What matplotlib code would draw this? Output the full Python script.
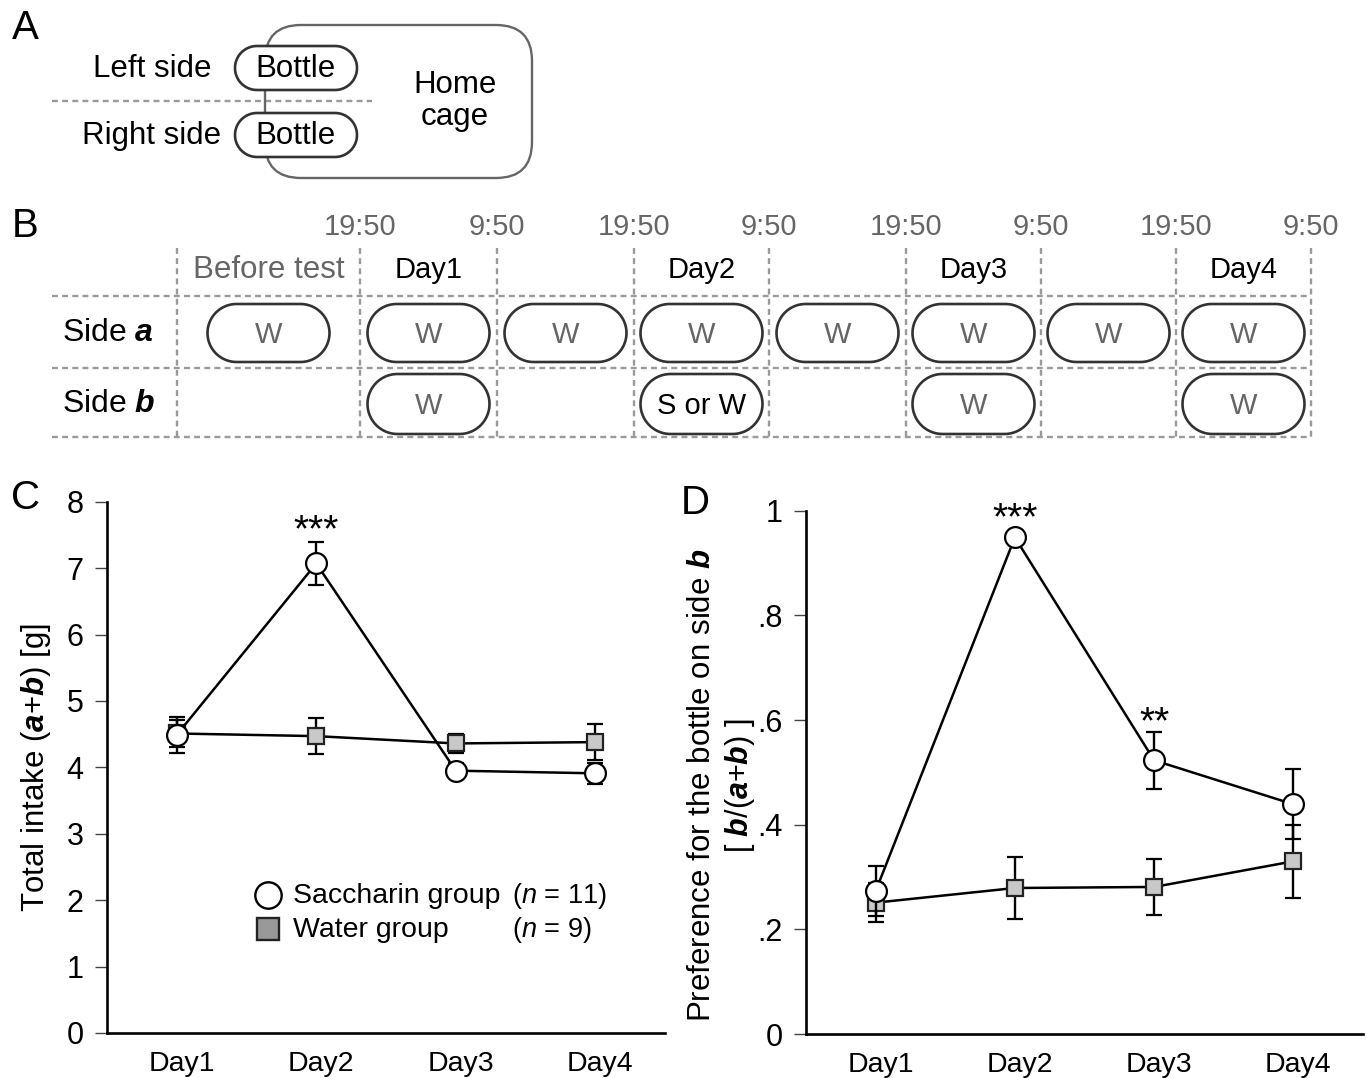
import numpy as np
import matplotlib
matplotlib.use('Agg')
import matplotlib.pyplot as plt
from matplotlib.patches import FancyBboxPatch, Polygon
from matplotlib.transforms import ScaledTranslation

plt.rcParams['font.family'] = ['Liberation Sans', 'DejaVu Sans']
plt.rcParams['mathtext.fontset'] = 'custom'
plt.rcParams['mathtext.rm'] = 'Liberation Sans'
plt.rcParams['mathtext.it'] = 'Liberation Sans:italic'
plt.rcParams['mathtext.bf'] = 'Liberation Sans:bold'
plt.rcParams['mathtext.bfit'] = 'Liberation Sans:italic:bold'

# ---- data ----
days = ['Day1', 'Day2', 'Day3', 'Day4']

# C: total intake (a+b) [g], mean and SEM
sac_intake = [4.49, 7.07, 3.95, 3.91]
sac_intake_err = [0.27, 0.32, 0.11, 0.16]
wat_intake = [4.51, 4.47, 4.36, 4.38]
wat_intake_err = [0.20, 0.27, 0.14, 0.27]

# D: preference for side b, b/(a+b)
sac_pref = [0.273, 0.949, 0.523, 0.439]
sac_pref_err = [0.048, 0.0, 0.054, 0.067]
wat_pref = [0.251, 0.279, 0.281, 0.330]
wat_pref_err = [0.037, 0.060, 0.053, 0.070]

# B: schedule
times = ['19:50', '9:50', '19:50', '9:50', '19:50', '9:50', '19:50', '9:50']
periods = ['Before test', 'Day1', '', 'Day2', '', 'Day3', '', 'Day4']
side_a = ['W', 'W', 'W', 'W', 'W', 'W', 'W', 'W']
side_b = ['', 'W', '', 'S or W', '', 'W', '', 'W']

W, H = 1366, 1078
fig = plt.figure(figsize=(W / 100, H / 100), dpi=100)

# overlay axes in pixel coordinates for the schematics (A, B)
ax0 = fig.add_axes([0, 0, 1, 1])
ax0.set_xlim(0, W)
ax0.set_ylim(H, 0)
ax0.axis('off')

GRAY_TXT = '#666666'
DASH = '#9a9a9a'


def pill(cx, cy, w, h, ec='#333333', lw=1.9):
    # stadium shape with true semicircular ends
    r = h / 2
    t = np.linspace(-np.pi / 2, np.pi / 2, 40)
    right = np.c_[cx + w / 2 - r + r * np.cos(t), cy + r * np.sin(t)]
    left = np.c_[cx - w / 2 + r - r * np.cos(t), cy - r * np.sin(t)]
    ax0.add_patch(Polygon(np.vstack([right, left]), closed=True,
                          fc='white', ec=ec, lw=lw, zorder=3))


def dline(x0, x1, y0, y1):
    ax0.plot([x0, x1], [y0, y1], color=DASH, lw=1.7, dashes=(2.5, 1.8),
             zorder=1)


# panel letters
for lab, (lx, ly) in zip('ABCD', [(25, 28), (25, 226), (26, 498), (695, 503)]):
    ax0.text(lx, ly, lab, fontsize=29, ha='center', va='center')

# ---- A ----
cage = FancyBboxPatch((265, 25), 267, 153, boxstyle='round,pad=0,rounding_size=36',
                      fc='none', ec='#666666', lw=1.7, zorder=2)
ax0.add_patch(cage)
dline(52, 372, 101, 101)
pill(296, 68, 122, 44)
pill(296, 135, 122, 44)
ax0.text(296, 69, 'Bottle', fontsize=22.5, ha='center', va='center', zorder=4)
ax0.text(296, 136, 'Bottle', fontsize=22.5, ha='center', va='center', zorder=4)
ax0.text(152, 69, 'Left side', fontsize=22.5, ha='center', va='center')
ax0.text(152, 136, 'Right side', fontsize=22.5, ha='center', va='center')
ax0.text(455, 101, 'Home\ncage', fontsize=22.5, ha='center', va='center',
         linespacing=1.05)

# ---- B ----
bounds = [177, 360, 497, 634, 769, 906, 1041, 1176, 1311]
for bx in bounds:
    dline(bx, bx, 248, 437)
for hy in [296, 368, 437]:
    dline(52, 1311, hy, hy)
for bx, t in zip(bounds[1:], times):
    ax0.text(bx, 227, t, fontsize=21, ha='center', va='center', color=GRAY_TXT)
for i, per in enumerate(periods):
    cx = (bounds[i] + bounds[i + 1]) / 2
    col = GRAY_TXT if i == 0 else 'black'
    fs = 22.5 if i == 0 else 21
    ax0.text(cx, 270, per, fontsize=fs, ha='center', va='center', color=col)
    if side_a[i]:
        pill(cx, 333, 122, 58)
        ax0.text(cx, 335, side_a[i], fontsize=21, ha='center', va='center',
                 color=GRAY_TXT, zorder=4)
    if side_b[i]:
        pill(cx, 404, 122, 60)
        col = 'black' if side_b[i] != 'W' else GRAY_TXT
        ax0.text(cx, 406, side_b[i], fontsize=21, ha='center', va='center',
                 color=col, zorder=4)
ax0.text(62, 333, r'Side $\mathbfit{a}$', fontsize=23, ha='left', va='center')
ax0.text(62, 404, r'Side $\mathbfit{b}$', fontsize=23, ha='left', va='center')


# ---- C and D ----
def style_axes(ax):
    for s in ['top', 'right']:
        ax.spines[s].set_visible(False)
    for s in ['left', 'bottom']:
        ax.spines[s].set_linewidth(1.9)
    ax.tick_params(axis='y', direction='out', length=9, width=1.0,
                   color='#444444', pad=8, labelsize=22)
    ax.tick_params(axis='x', length=0, pad=13, labelsize=20.5)
    ax.set_xlim(0.5, 4.5)
    ax.set_xticks(range(1, 5))
    ax.set_xticklabels(days)
    shift = ScaledTranslation(5 / 100, 0, fig.dpi_scale_trans)
    for lbl in ax.get_xticklabels():
        lbl.set_transform(lbl.get_transform() + shift)


def draw_groups(ax, wat, wat_err, sac, sac_err):
    xs = np.arange(1, 5)
    ax.errorbar(xs, wat, yerr=wat_err, fmt='-s', color='black', lw=1.8,
                ms=12, mfc='#c8c8c8', mec='#222222', mew=1.6,
                capsize=5.5, capthick=1.7, elinewidth=1.7, zorder=3,
                clip_on=False)
    ax.errorbar(xs, sac, yerr=sac_err, fmt='-o', color='black', lw=1.8,
                ms=15, mfc='white', mec='black', mew=1.6,
                capsize=5.5, capthick=1.7, elinewidth=1.7, zorder=4,
                clip_on=False)


axC = fig.add_axes([107 / W, 1 - 1033 / H, (665 - 107) / W, (1033 - 501.7) / H])
style_axes(axC)
axC.set_ylim(0, 8)
axC.set_yticks(range(0, 9))
draw_groups(axC, wat_intake, wat_intake_err, sac_intake, sac_intake_err)
axC.text(2, 7.4, '***', fontsize=28, ha='center', va='baseline')
axC.text(-0.127, 0.5, r'Total intake ($\mathbfit{a}$+$\mathbfit{b}$) [g]',
         transform=axC.transAxes, rotation=90, fontsize=22.5,
         ha='center', va='center')

# legend drawn by hand
axC.plot([0.2885], [0.26], 'o', ms=19, mfc='white', mec='black', mew=1.7,
         transform=axC.transAxes, clip_on=False)
axC.plot([0.2885], [0.196], 's', ms=15.5, mfc='#999999', mec='#222222', mew=1.7,
         transform=axC.transAxes, clip_on=False)
axC.text(0.333, 0.258, 'Saccharin group', transform=axC.transAxes,
         fontsize=20.5, ha='left', va='center')
axC.text(0.333, 0.194, 'Water group', transform=axC.transAxes,
         fontsize=20.5, ha='left', va='center')
axC.text(0.726, 0.258, r'($\mathit{n}$ = 11)', transform=axC.transAxes,
         fontsize=19.5, ha='left', va='center')
axC.text(0.726, 0.194, r'($\mathit{n}$ = 9)', transform=axC.transAxes,
         fontsize=19.5, ha='left', va='center')

axD = fig.add_axes([806 / W, 1 - 1034 / H, (1363 - 806) / W, (1034 - 510.7) / H])
style_axes(axD)
axD.set_ylim(0, 1)
axD.set_yticks([0, 0.2, 0.4, 0.6, 0.8, 1.0])
axD.set_yticklabels(['0', '.2', '.4', '.6', '.8', '1'])
draw_groups(axD, wat_pref, wat_pref_err, sac_pref, sac_pref_err)
axD.text(2, 0.964, '***', fontsize=28, ha='center', va='baseline')
axD.text(3, 0.574, '**', fontsize=28, ha='center', va='baseline')
axD.text(-0.187, 0.475, r'Preference for the bottle on side $\mathbfit{b}$',
         transform=axD.transAxes, rotation=90, fontsize=22.5,
         ha='center', va='center')
axD.text(-0.119, 0.475, r'[ $\mathbfit{b}$/($\mathbfit{a}$+$\mathbfit{b}$) ]',
         transform=axD.transAxes, rotation=90, fontsize=22,
         ha='center', va='center')

fig.savefig('out.png', dpi=100)
